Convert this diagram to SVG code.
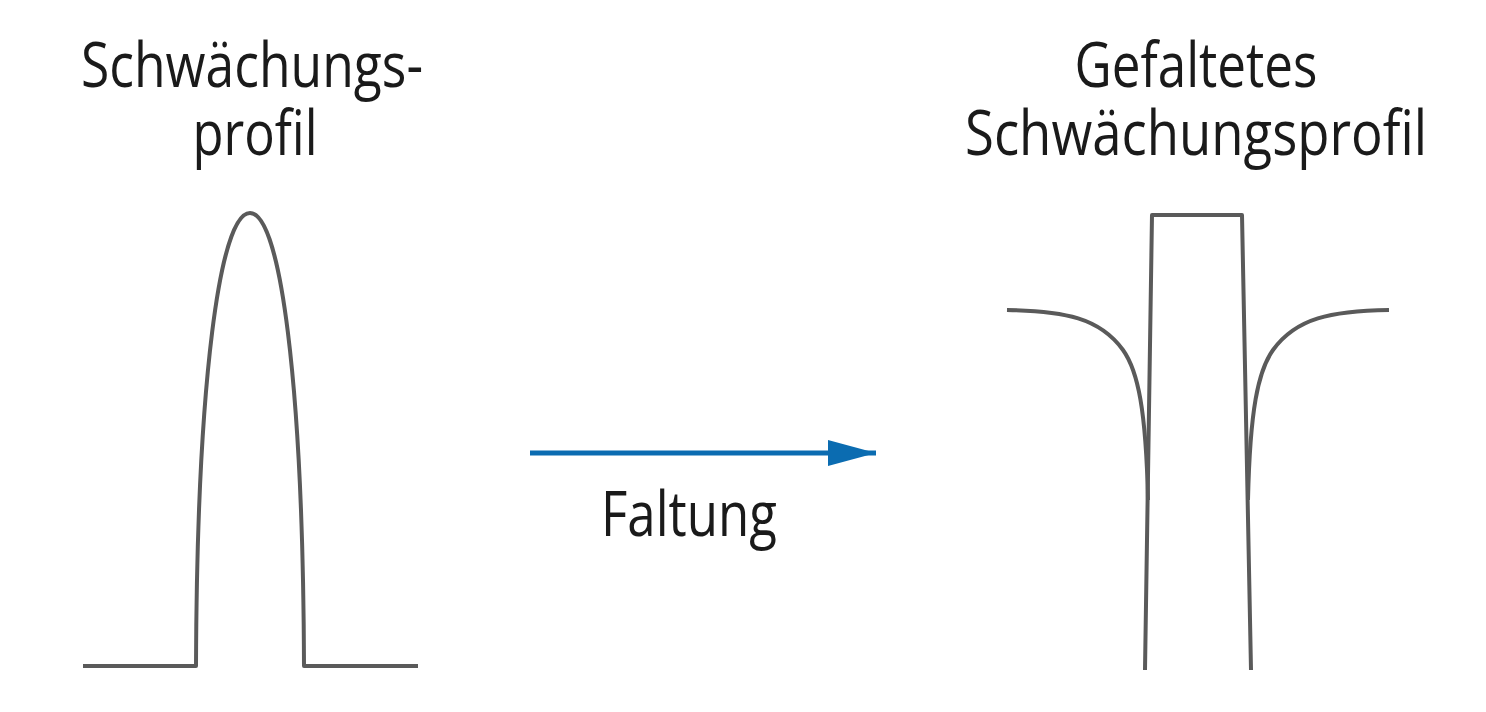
<svg xmlns="http://www.w3.org/2000/svg" width="1486" height="712" viewBox="0 0 1486 712">
<style>
.lbl{font-family:"Open Sans","Noto Sans","Liberation Sans",sans-serif;font-size:62px;fill:#1a1a1a;text-anchor:middle}
.curve{fill:none;stroke:#5a5a5a;stroke-width:4;stroke-linejoin:round;stroke-linecap:butt}
</style>
<defs>
<marker id="ah" markerUnits="userSpaceOnUse" markerWidth="50" markerHeight="26" refX="48" refY="13" orient="auto">
<path d="M0,0 L48,13 L0,26 Z" fill="#0b6cb1"/>
</marker>
</defs>
<rect width="1486" height="712" fill="#ffffff"/>
<g id="profile">
<text class="lbl" x="252" y="87" textLength="342" lengthAdjust="spacingAndGlyphs">Schwächungs-</text>
<text class="lbl" x="255" y="155" textLength="125" lengthAdjust="spacingAndGlyphs">profil</text>
<path class="curve" d="M83,666 H196 C197,380 220,213 250,213 C280,213 303,380 304,666 H418"/>
</g>
<g id="folded">
<text class="lbl" x="1196" y="87" textLength="243" lengthAdjust="spacingAndGlyphs">Gefaltetes</text>
<text class="lbl" x="1196" y="155" textLength="462" lengthAdjust="spacingAndGlyphs">Schwächungsprofil</text>
<path class="curve" d="M1145,670 L1152,215 H1242 L1251,670"/>
<path class="curve" d="M1007,310 C1065,311 1100,318 1123,350 C1138,371 1146,410 1148,500"/>
<path class="curve" d="M1389,310 C1331,311 1296,318 1273,350 C1258,371 1250,410 1248,500"/>
</g>
<g id="connectors">
<line x1="530" y1="453" x2="876" y2="453" stroke="#0b6cb1" stroke-width="5" marker-end="url(#ah)"/>
<text class="lbl" x="689" y="536" textLength="176" lengthAdjust="spacingAndGlyphs">Faltung</text>
</g>
</svg>
